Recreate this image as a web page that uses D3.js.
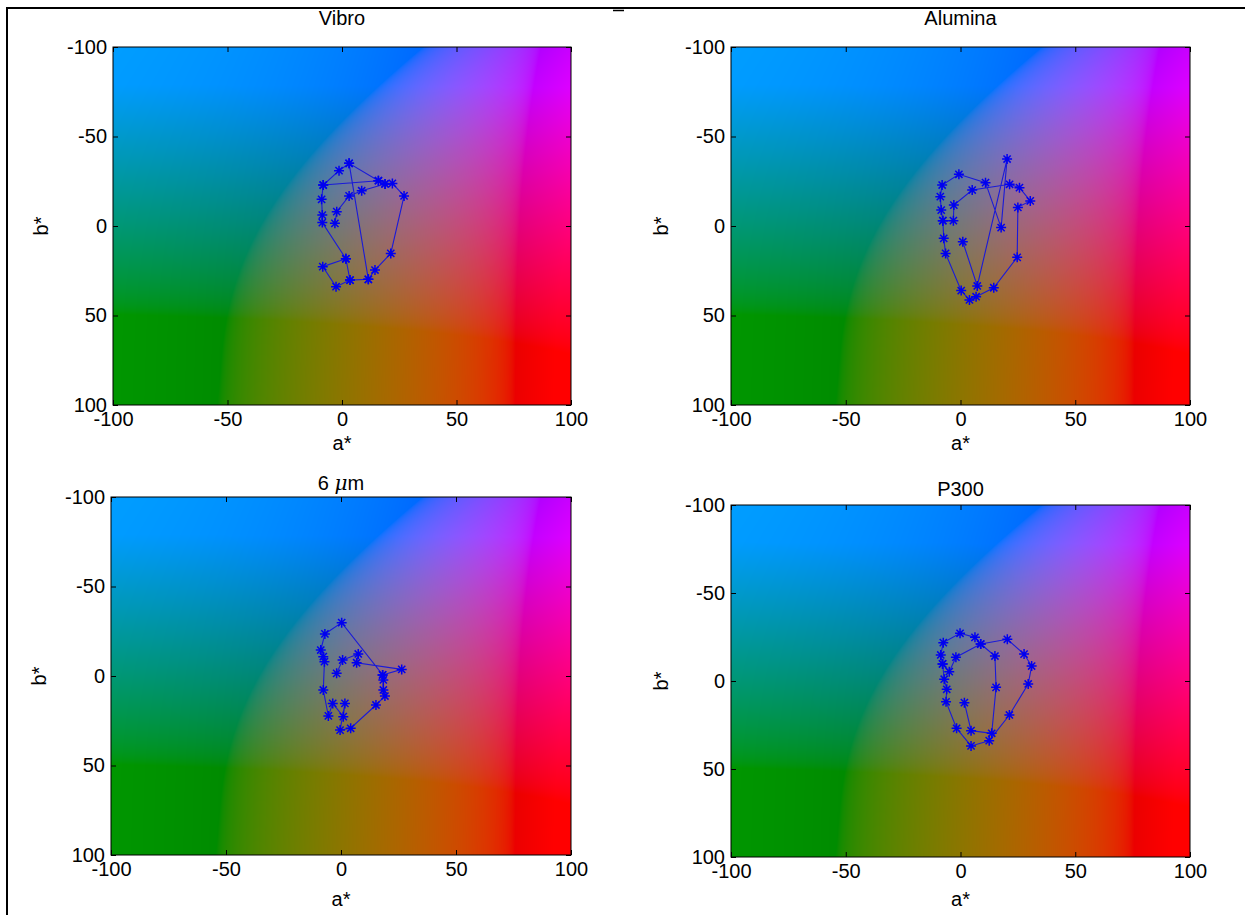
<!DOCTYPE html>
<html><head><meta charset="utf-8">
<script src="https://cdn.jsdelivr.net/npm/d3@7"></script>
<style>
body{margin:0;background:#fff;}
svg{display:block;}
text{font-family:"Liberation Sans",Arial,sans-serif;fill:#000;}
</style></head><body>
<svg id="chart" width="1245" height="915"></svg>
<script>
// ---------- data ----------
const titles = ["Vibro", "Alumina", "6 μm", "P300"];
const xLabel = "a*";
const yLabel = "b*";
const aTicks = [-100, -50, 0, 50, 100];
const bTicks = [-100, -50, 0, 50, 100];
const lightness = 50;

const vibroA = [-3.1,-2.3,3.1,8.6,18.8,22.0,27.1,21.3,14.4,11.5,3.1,11.5,3.5,1.7,3.5,-2.6,-8.4,1.7,-8.6,-8.6,-8.9,-8.2,-1.3,3.1,15.9,18.8,15.9,-8.2];
const vibroB = [-1.5,-8.0,-16.8,-19.7,-23.5,-23.8,-16.8,15.3,24.6,29.8,-35.0,29.8,30.2,18.3,30.2,33.9,22.7,18.3,-1.9,-6.1,-14.9,-22.9,-30.9,-35.0,-25.3,-23.5,-25.3,-22.9];

const aluminaA = [1.0,7.3,20.3,17.7,10.9,-0.7,-8.0,-8.8,-8.4,-7.7,-7.3,-6.5,0.3,3.9,6.8,14.5,24.7,25.0,30.4,25.7,21.4,5.1,-2.9,-3.1,-7.7];
const aluminaB = [8.8,33.5,-37.4,0.9,-24.2,-28.9,-22.9,-16.4,-8.9,-3.0,6.9,15.3,36.1,41.3,39.5,34.5,17.5,-10.4,-14.0,-21.4,-23.3,-20.1,-11.7,-3.0,-3.0];

const sixA = [-1.9,0.7,7.5,6.8,26.4,18.1,0.3,-7.0,-8.8,-7.7,-7.2,-7.7,-5.5,-3.6,1.0,1.7,-0.4,4.2,15.2,19.1,18.4,18.4,18.1];
const sixB = [-1.5,-8.9,-12.3,-7.4,-3.7,-0.6,-29.8,-23.5,-14.5,-10.8,-8.0,7.8,22.3,15.3,22.7,15.3,30.2,29.2,16.2,11.2,7.8,2.2,-0.6];

const p300A = [1.7,4.6,13.6,15.5,15.0,8.8,6.3,-0.2,-7.5,-8.6,-7.8,-4.9,-2.0,8.8,20.4,27.7,31.0,29.5,21.3,12.5,4.6,-1.7,-6.3,-6.0,-7.1,-7.8];
const p300B = [12.3,28.2,29.7,3.6,-14.2,-21.0,-24.8,-27.1,-21.8,-14.8,-9.7,-5.3,-13.5,-21.0,-23.7,-15.3,-8.5,1.7,19.3,33.9,36.9,26.9,11.8,4.7,-1.0,-9.7];

const seriesA = [vibroA, aluminaA, sixA, p300A];
const seriesB = [vibroB, aluminaB, sixB, p300B];

// ---------- layout ----------
const layout = [
  {x0:113, x1:571, y0:47,  y1:405, titleY:25,  labelY:450, yLabX:41},
  {x0:731, x1:1190, y0:47, y1:405, titleY:25,  labelY:450, yLabX:661},
  {x0:111, x1:571, y0:497, y1:855, titleY:490, labelY:906, yLabX:39},
  {x0:731, x1:1190, y0:505, y1:857, titleY:496, labelY:906, yLabX:661}
];
const fontSize = 20;
const fmt = d => String(d);   // plain hyphen-minus like the original

const svg = d3.select("#chart");

// outer frame fragments
svg.append("line").attr("x1",7).attr("x2",1245).attr("y1",8).attr("y2",8).attr("stroke","#000").attr("stroke-width",2);
svg.append("line").attr("x1",7).attr("x2",7).attr("y1",7).attr("y2",915).attr("stroke","#000").attr("stroke-width",2);
svg.append("line").attr("x1",613).attr("x2",624).attr("y1",10.5).attr("y2",10.5).attr("stroke","#000").attr("stroke-width",1.5);

function starPath(r){
  const d = r*0.72;
  return `M${-r},0L${r},0M0,${-r}L0,${r}M${-d},${-d}L${d},${d}M${-d},${d}L${d},${-d}`;
}

layout.forEach((L, i) => {
  const w = L.x1 - L.x0, h = L.y1 - L.y0;
  const x = d3.scaleLinear().domain([aTicks[0], aTicks[aTicks.length-1]]).range([L.x0, L.x1]);
  const y = d3.scaleLinear().domain([bTicks[0], bTicks[bTicks.length-1]]).range([L.y0, L.y1]);
  const g = svg.append("g");

  // background: CIELAB a*b* plane at constant lightness
  const canvas = document.createElement("canvas");
  canvas.width = w; canvas.height = h;
  const ctx = canvas.getContext("2d");
  const img = ctx.createImageData(w, h);
  for (let py = 0; py < h; py++) {
    const bv = y.invert(L.y0 + py + 0.5);
    for (let px = 0; px < w; px++) {
      const av = x.invert(L.x0 + px + 0.5);
      const c = d3.lab(lightness, av, bv).rgb();
      const k = (py*w + px)*4;
      img.data[k]   = Math.max(0, Math.min(255, Math.round(c.r)));
      img.data[k+1] = Math.max(0, Math.min(255, Math.round(c.g)));
      img.data[k+2] = Math.max(0, Math.min(255, Math.round(c.b)));
      img.data[k+3] = 255;
    }
  }
  ctx.putImageData(img, 0, 0);
  g.append("image").attr("x", L.x0).attr("y", L.y0).attr("width", w).attr("height", h)
    .attr("preserveAspectRatio","none").attr("href", canvas.toDataURL());

  // axes (inward ticks, box)
  const tl = 5;
  const axB = g.append("g").attr("transform",`translate(0,${L.y1})`)
    .call(d3.axisBottom(x).tickValues(aTicks).tickFormat(fmt).tickSizeInner(-tl).tickSizeOuter(0).tickPadding(7));
  const axT = g.append("g").attr("transform",`translate(0,${L.y0})`)
    .call(d3.axisTop(x).tickValues(aTicks).tickSizeInner(-tl).tickSizeOuter(0).tickFormat(""));
  const axL = g.append("g").attr("transform",`translate(${L.x0},0)`)
    .call(d3.axisLeft(y).tickValues(bTicks).tickFormat(fmt).tickSizeInner(-tl).tickSizeOuter(0).tickPadding(6));
  const axR = g.append("g").attr("transform",`translate(${L.x1},0)`)
    .call(d3.axisRight(y).tickValues(bTicks).tickSizeInner(-tl).tickSizeOuter(0).tickFormat(""));
  [axB, axT, axL, axR].forEach(a => {
    a.select(".domain").remove();
    a.selectAll("line").attr("stroke","#000").attr("stroke-width",1);
    a.selectAll("text").attr("font-size", fontSize).attr("font-family","'Liberation Sans',Arial,sans-serif").attr("fill","#222");
  });
  g.append("rect").attr("x",L.x0).attr("y",L.y0).attr("width",w).attr("height",h)
    .attr("fill","none").attr("stroke","#000").attr("stroke-width",1);

  // title
  const t = g.append("text").attr("x",(L.x0+L.x1)/2).attr("y",L.titleY)
    .attr("text-anchor","middle").attr("font-size",fontSize).attr("fill","#222");
  const title = titles[i];
  if (title.includes("μ")) {
    const parts = title.split("μ");
    t.append("tspan").text(parts[0]);
    t.append("tspan").attr("font-style","italic").attr("font-family","'DejaVu Serif',serif").text("μ");
    t.append("tspan").text(parts[1]);
  } else t.text(title);

  // axis labels
  g.append("text").attr("x",(L.x0+L.x1)/2).attr("y",L.labelY).attr("text-anchor","middle")
    .attr("font-size",fontSize).attr("fill","#222").text(xLabel);
  g.append("text").attr("transform",`translate(${L.yLabX},${(L.y0+L.y1)/2}) rotate(-90)`)
    .attr("text-anchor","middle").attr("dy","0.35em").attr("font-size",fontSize).attr("fill","#222").text(yLabel);

  // data
  const A = seriesA[i], B = seriesB[i];
  const pts = A.map((a, j) => [x(a), y(B[j])]);
  g.append("path").attr("d", d3.line()(pts)).attr("fill","none")
    .attr("stroke","#1a1ad8").attr("stroke-width",1.1);
  g.selectAll(".star").data(pts).join("path").attr("class","star")
    .attr("transform", d => `translate(${d[0]},${d[1]})`)
    .attr("d", starPath(5)).attr("stroke","#0000f0").attr("stroke-width",1.5).attr("fill","none");
});
</script>
</body></html>
